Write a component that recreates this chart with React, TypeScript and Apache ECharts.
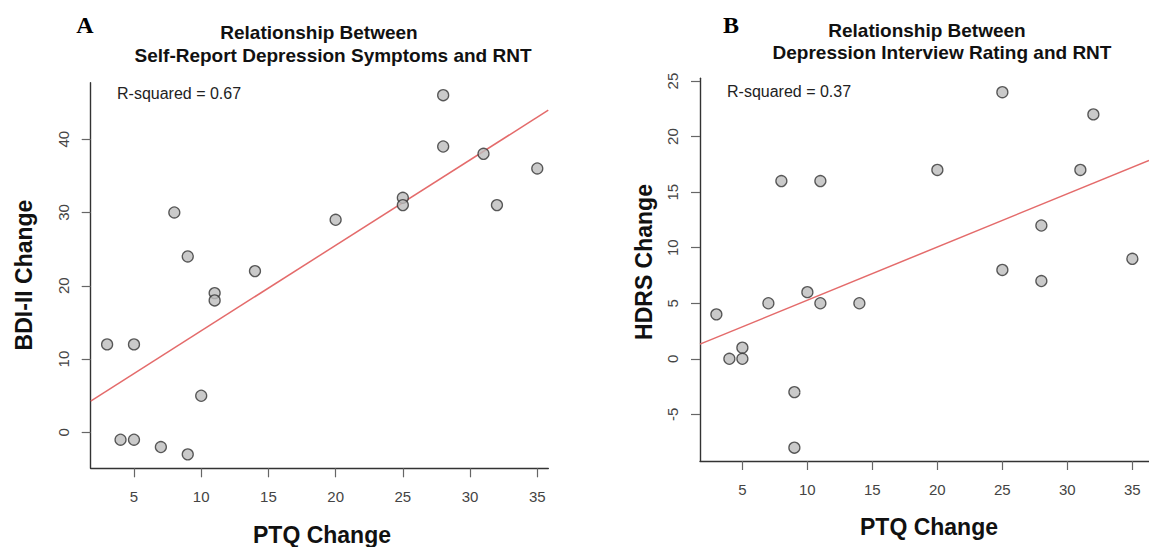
import React, { useEffect, useRef } from "react";
import * as echarts from "echarts";

// PTQ change (shared x values for both panels)
const xPTQ = [3, 4, 5, 5, 7, 8, 9, 9, 10, 11, 11, 14, 20, 25, 25, 28, 28, 31, 32, 35];
// Panel A: BDI-II change
const yBDI = [12, -1, -1, 12, -2, 30, 24, -3, 5, 19, 18, 22, 29, 32, 31, 46, 39, 38, 31, 36];
// Panel B: HDRS change
const yHDRS = [4, 0, 1, 0, 5, 16, -3, -8, 6, 16, 5, 5, 17, 24, 8, 12, 7, 17, 22, 9];

const xTicks = [5, 10, 15, 20, 25, 30, 35];
const yTicksA = [0, 10, 20, 30, 40];
const yTicksB = [-5, 0, 5, 10, 15, 20, 25];

const titleA = ["Relationship Between", "Self-Report Depression Symptoms and RNT"];
const titleB = ["Relationship Between", "Depression Interview Rating and RNT"];
const rsqA = "R-squared = 0.67";
const rsqB = "R-squared = 0.37";
const xName = "PTQ Change";
const yNameA = "BDI-II Change";
const yNameB = "HDRS Change";

function fit(xs: number[], ys: number[]) {
  const n = xs.length;
  const mx = xs.reduce((a, b) => a + b, 0) / n;
  const my = ys.reduce((a, b) => a + b, 0) / n;
  let sxy = 0, sxx = 0;
  for (let i = 0; i < n; i++) {
    sxy += (xs[i] - mx) * (ys[i] - my);
    sxx += (xs[i] - mx) ** 2;
  }
  const b = sxy / sxx;
  return { a: my - b * mx, b };
}

const SANS = '"Liberation Sans", Arial, sans-serif';

export default function App() {
  const ref = useRef<HTMLDivElement>(null);
  useEffect(() => {
    if (!ref.current) return;
    const chart = echarts.init(ref.current, undefined, { renderer: "svg" });
    const xMinA = 1.78, xMaxA = 35.82;
    const xMinB = 1.74, xMaxB = 36.28;
    const fA = fit(xPTQ, yBDI);
    const fB = fit(xPTQ, yHDRS);

    const xAxisBase = (gi: number, min: number, max: number) => ({
      type: "value",
      gridIndex: gi,
      min,
      max,
      splitLine: { show: false },
      axisLine: { show: true, onZero: false, lineStyle: { color: "#333", width: 1.4 } },
      axisTick: { show: true, length: 9, customValues: xTicks, lineStyle: { color: "#666", width: 1.2 } },
      axisLabel: { customValues: xTicks, fontSize: 15, color: "#444", margin: 21, fontFamily: SANS },
    });
    const yAxisBase = (gi: number, min: number, max: number, ticks: number[]) => ({
      type: "value",
      gridIndex: gi,
      min,
      max,
      splitLine: { show: false },
      axisLine: { show: true, onZero: false, lineStyle: { color: "#333", width: 1.4 } },
      axisTick: { show: true, length: 9, customValues: ticks, lineStyle: { color: "#666", width: 1.2 } },
      axisLabel: { customValues: ticks, fontSize: 15, color: "#444", margin: 20, rotate: 90, fontFamily: SANS },
    });

    const scatterStyle = { color: "#bdbdbd", borderColor: "#333", borderWidth: 1.3 };
    const lineStyle = { color: "#e46b6b", width: 1.5 };

    const txt = (text: string, x: number, y: number, font: string, extra: any = {}) => ({
      type: "text",
      x,
      y,
      ...extra,
      style: { text, font, fill: "#111", align: "center", verticalAlign: "middle", ...(extra.style || {}) },
    });

    chart.setOption({
      animation: false,
      backgroundColor: "#fff",
      grid: [
        { left: 90.7, top: 82.7, width: 457.6, height: 385.6 },
        { left: 700, top: 78.3, width: 459.4, height: 382.7 },
      ],
      xAxis: [xAxisBase(0, xMinA, xMaxA), xAxisBase(1, xMinB, xMaxB)],
      yAxis: [yAxisBase(0, -4.9, 47.7, yTicksA), yAxisBase(1, -9.2, 25.25, yTicksB)],
      series: [
        {
          type: "line",
          xAxisIndex: 0,
          yAxisIndex: 0,
          symbol: "none",
          lineStyle,
          z: 1,
          data: [
            [xMinA, fA.a + fA.b * xMinA],
            [xMaxA, fA.a + fA.b * xMaxA],
          ],
        },
        {
          type: "scatter",
          xAxisIndex: 0,
          yAxisIndex: 0,
          symbolSize: 11,
          itemStyle: scatterStyle,
          z: 2,
          data: xPTQ.map((x, i) => [x, yBDI[i]]),
        },
        {
          type: "line",
          xAxisIndex: 1,
          yAxisIndex: 1,
          symbol: "none",
          lineStyle,
          z: 1,
          data: [
            [xMinB, fB.a + fB.b * xMinB],
            [xMaxB, fB.a + fB.b * xMaxB],
          ],
        },
        {
          type: "scatter",
          xAxisIndex: 1,
          yAxisIndex: 1,
          symbolSize: 11,
          itemStyle: scatterStyle,
          z: 2,
          data: xPTQ.map((x, i) => [x, yHDRS[i]]),
        },
      ],
      graphic: [
        txt("A", 85, 25, 'bold 24px "Liberation Serif", "Times New Roman", serif', { style: { fill: "#000" } }),
        txt("B", 731, 25, 'bold 24px "Liberation Serif", "Times New Roman", serif', { style: { fill: "#000" } }),
        txt(titleA[0], 319, 32, `bold 19px ${SANS}`),
        txt(titleA[1], 333, 55, `bold 19px ${SANS}`),
        txt(titleB[0], 927, 30, `bold 19px ${SANS}`),
        txt(titleB[1], 942, 52, `bold 19px ${SANS}`),
        txt(rsqA, 117, 93.5, `16px ${SANS}`, { style: { align: "left", fill: "#222" } }),
        txt(rsqB, 727, 91.5, `16px ${SANS}`, { style: { align: "left", fill: "#222" } }),
        txt(xName, 322, 535, `bold 23px ${SANS}`),
        txt(xName, 929, 527, `bold 23px ${SANS}`),
        txt(yNameA, 23.5, 275, `bold 23px ${SANS}`, { rotation: Math.PI / 2 }),
        txt(yNameB, 643.5, 262, `bold 23px ${SANS}`, { rotation: Math.PI / 2 }),
      ],
    });
    return () => chart.dispose();
  }, []);
  return (
    <div
      ref={ref}
      style={{ position: "fixed", left: 0, top: 0, width: 1149, height: 547, background: "#fff" }}
    />
  );
}
